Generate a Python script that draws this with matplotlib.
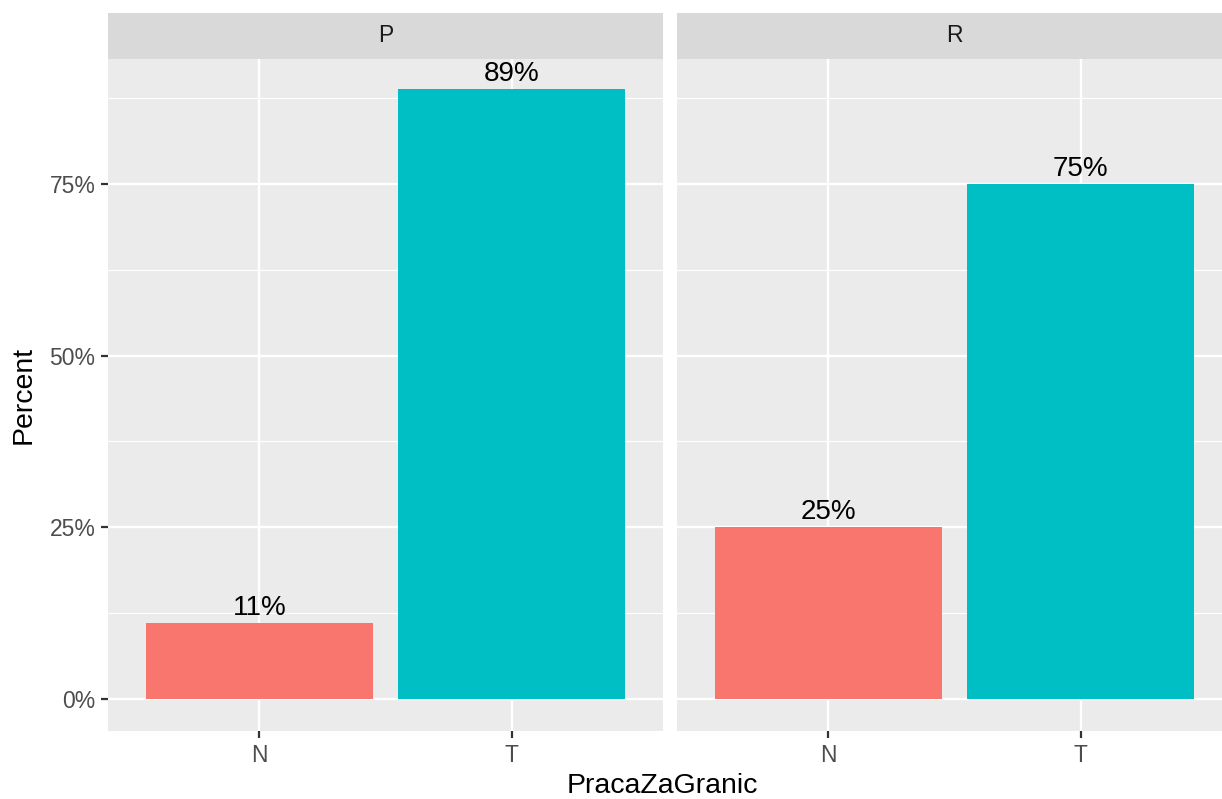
import matplotlib
matplotlib.use("Agg")
import matplotlib.pyplot as plt
from matplotlib.ticker import FixedLocator

plt.rcParams['font.family'] = ['Liberation Sans', 'DejaVu Sans']

panels = ['P', 'R']
categories = ['N', 'T']
values = {'P': [1 / 9, 8 / 9], 'R': [0.25, 0.75]}
labels = {'P': ['11%', '89%'], 'R': ['25%', '75%']}
colors = ['#F8766D', '#00BFC4']
yticks = [0, 0.25, 0.5, 0.75]
ytick_labels = ['0%', '25%', '50%', '75%']

W, H = 1222, 799
fig = plt.figure(figsize=(W / 100, H / 100), dpi=100)

bottom = (H - 731) / H
height = (731 - 59) / H
strip_h = (59 - 13) / H
width = 555 / W
lefts = [108 / W, 677 / W]

for i, p in enumerate(panels):
    ax = fig.add_axes([lefts[i], bottom, width, height])
    ax.set_facecolor('#EBEBEB')
    x = range(len(categories))
    ax.bar(x, values[p], width=0.9, color=colors, zorder=3)
    for xi, v, lab in zip(x, values[p], labels[p]):
        ax.annotate(lab, (xi, v), xytext=(0, 5.8), textcoords='offset points',
                    ha='center', va='baseline', fontsize=20, color='black', zorder=4)
    ax.set_xlim(-0.6, 1.6)
    ax.set_ylim(-0.0466, 0.932)
    ax.set_xticks(list(x))
    ax.set_xticklabels(categories)
    ax.set_yticks(yticks)
    ax.yaxis.set_minor_locator(FixedLocator([0.125, 0.375, 0.625, 0.875]))
    ax.grid(which='major', color='white', linewidth=1.7, zorder=1)
    ax.grid(which='minor', axis='y', color='white', linewidth=0.85, zorder=1)
    ax.set_axisbelow(True)
    for s in ax.spines.values():
        s.set_visible(False)
    ax.tick_params(which='major', length=5, width=1.6, color='#333333',
                   labelsize=16.5, labelcolor='#4D4D4D', pad=4)
    ax.tick_params(which='minor', length=0)
    if i == 0:
        ax.set_yticklabels(ytick_labels)
    else:
        ax.tick_params(axis='y', which='both', left=False, labelleft=False)
    # facet strip
    sax = fig.add_axes([lefts[i], bottom + height, width, strip_h])
    sax.set_facecolor('#D9D9D9')
    sax.set_xticks([])
    sax.set_yticks([])
    for s in sax.spines.values():
        s.set_visible(False)
    sax.text(0.5, 0.5, p, transform=sax.transAxes, ha='center', va='center',
             fontsize=16.5, color='#1A1A1A')

fig.text(662 / W, 6 / H, 'PracaZaGranic', ha='center', va='baseline',
         fontsize=20.5, color='black')
fig.text(11 / W, (H - 395) / H, 'Percent', rotation=90, ha='left', va='center',
         fontsize=20.5, color='black')

fig.savefig('out.png', dpi=100)
